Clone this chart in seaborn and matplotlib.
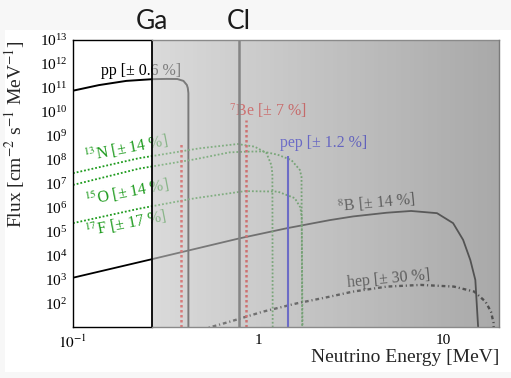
import numpy as np
import pandas as pd
import matplotlib
matplotlib.use("Agg")
import matplotlib.pyplot as plt
import matplotlib.ticker as mticker
import matplotlib.transforms as mtransforms
from matplotlib.patches import Rectangle
from matplotlib.lines import Line2D
import seaborn as sns

# ---------------- data ----------------
pp_energy = [0.100, 0.138, 0.194, 0.268, 0.320, 0.366, 0.395, 0.412, 0.417, 0.420, 0.420]
pp_flux = [7.6e10, 1.30e11, 1.95e11, 2.30e11, 2.36e11, 2.34e11, 1.95e11, 1.32e11, 9.8e10, 6.0e10, 1.0]

n13_energy = [0.100, 0.228, 0.269, 0.482, 0.774, 0.957, 1.108, 1.179, 1.194, 1.199]
n13_flux = [2.7e7, 1.15e8, 1.41e8, 2.95e8, 4.47e8, 3.47e8, 1.9e8, 5.9e7, 2.5e7, 1.0]

o15_energy = [0.100, 0.228, 0.453, 0.700, 0.846, 1.050, 1.275, 1.513, 1.680, 1.715, 1.732]
o15_flux = [8.7e6, 4.2e7, 1.02e8, 2.0e8, 2.14e8, 2.2e8, 1.6e8, 9.5e7, 3.7e7, 1.9e7, 1.0]

f17_energy = [0.100, 0.228, 0.453, 0.846, 1.275, 1.577, 1.690, 1.720, 1.740]
f17_flux = [2.2e5, 8.9e5, 2.4e6, 4.8e6, 4.6e6, 2.45e6, 1.0e6, 4.0e5, 1.0]

b8_energy = [0.100, 0.268, 0.794, 1.43, 2.44, 3.26, 4.95, 6.70, 9.25, 11.3, 12.8, 14.0, 14.9, 15.7]
b8_flux = [1.15e3, 6.9e3, 5.1e4, 1.35e5, 2.95e5, 4.2e5, 6.0e5, 7.1e5, 5.75e5, 2.2e5, 4.4e4, 6.3e3, 9.3e2, 1.0]

hep_energy = [0.50, 0.557, 0.701, 1.06, 1.62, 2.44, 3.25, 4.97, 7.55, 11.4, 14.7, 16.9, 18.1, 18.7, 18.8]
hep_flux = [8.0, 10.0, 16.6, 43.7, 97.7, 186.0, 302.0, 490.0, 575.0, 490.0, 302.0, 115.0, 43.7, 14.5, 1.0]

be7_energy = [0.384, 0.862]
be7_flux = [5.5e8, 4.6e9]

pep_energy = [1.442]
pep_flux = [1.4e8]

ga_threshold = 0.268
cl_threshold = 0.784

x_limits = (0.1, 20.0)
y_limits = (10.0, 1e13)
y_major = [1e2, 1e3, 1e4, 1e5, 1e6, 1e7, 1e8, 1e9, 1e10, 1e11, 1e12, 1e13]
x_major = [0.1, 1.0, 10.0]
x_major_labels = [r"$10^{-1}$", "1", "10"]

# ---------------- style ----------------
sns.set_style("white")
plt.rcParams["font.family"] = ["Liberation Serif", "DejaVu Serif"]
plt.rcParams["mathtext.fontset"] = "stix"

W, H = 511, 378
fig = plt.figure(figsize=(W / 100, H / 100), dpi=100, facecolor="#f7f7f7")
bg = Rectangle((5 / W, 1 - 372 / H), 1, (372 - 30) / H,
               transform=fig.transFigure, facecolor="white",
               edgecolor="none", zorder=-5)
fig.patches.append(bg)
ax = fig.add_axes([73 / W, 1 - 327 / H, (499 - 73) / W, (327 - 40) / H])
ax.set_zorder(1)
ax.set_facecolor("white")

GREEN = "#1e9b1e"


def curve(E, F, **kw):
    df = pd.DataFrame({"E": E, "F": F})
    sns.lineplot(data=df, x="E", y="F", ax=ax, sort=False, estimator=None,
                 legend=False, **kw)


curve(pp_energy, pp_flux, color="black", linewidth=1.4)
curve(b8_energy, b8_flux, color="black", linewidth=1.3)
curve(n13_energy, n13_flux, color=GREEN, linewidth=1.3, linestyle=(0, (1, 1.1)))
curve(o15_energy, o15_flux, color=GREEN, linewidth=1.3, linestyle=(0, (1, 1.1)))
curve(f17_energy, f17_flux, color=GREEN, linewidth=1.3, linestyle=(0, (1, 1.1)))
curve(hep_energy, hep_flux, color="black", linewidth=1.7,
      linestyle=(0, (1.6, 1.2, 0.5, 1.2)))

ax.vlines(be7_energy, y_limits[0], be7_flux, colors="red", linewidth=1.8,
          linestyles=[(0, (1, 1))])
ax.vlines(pep_energy, y_limits[0], pep_flux, colors="blue", linewidth=1.5)

ax.set_xscale("log")
ax.set_yscale("log")
ax.set_xlim(*x_limits)
ax.set_ylim(*y_limits)

# labels on curves
tk = dict(fontsize=11.5, va="baseline", ha="left", rotation_mode="anchor")
ax.text(0.141, 3.5e11, "pp [± 0.6 %]", color="black", **tk)
ax.text(0.692, 6.6e9, r"$^{7}$Be [± 7 %]", color="red", **tk)
ax.text(1.31, 3.5e8, "pep [± 1.2 %]", color="blue", **tk)
ax.text(0.116, 7.9e7, r"$^{13}$N [± 14 %]", color=GREEN, rotation=11, **tk)
ax.text(0.118, 1.15e6, r"$^{15}$O [± 14 %]", color=GREEN, rotation=11, **tk)
ax.text(0.118, 5.8e4, r"$^{17}$F [± 17 %]", color=GREEN, rotation=11, **tk)
ax.text(2.70, 6.5e5, r"$^{8}$B [± 14 %]", color="black", rotation=5.5, **tk)
ax.text(3.04, 4.7e2, "hep [± 30 %]", color="black", rotation=5.5, **tk)

# gray gradient overlay above the Ga threshold
lx0, lx1 = np.log10(x_limits[0]), np.log10(x_limits[1])
fx = (np.log10(ga_threshold) - lx0) / (lx1 - lx0)
n = 256
g = np.linspace(0.78, 0.48, n)
rgba = np.zeros((1, n, 4))
rgba[..., 0] = g
rgba[..., 1] = g
rgba[..., 2] = g
rgba[..., 3] = 0.65
ax.imshow(rgba, extent=[fx, 1.0, 0.0, 1.0], transform=ax.transAxes,
          aspect="auto", interpolation="bilinear", zorder=10)
ax.set_xlim(*x_limits)
ax.set_ylim(*y_limits)

ax.axvline(ga_threshold, color="black", linewidth=1.3, zorder=11)
ax.axvline(cl_threshold, color="#858585", linewidth=1.8, zorder=11)

# frame: black over the white part, gray over the shaded part
for sp in ("top", "right", "bottom"):
    ax.spines[sp].set_visible(False)
frame_kw = dict(transform=ax.transAxes, clip_on=False, zorder=12, linewidth=1.0,
                solid_capstyle="projecting")
ax.add_line(Line2D([0, fx], [1, 1], color="black", **frame_kw))
ax.add_line(Line2D([0, fx], [0, 0], color="black", **frame_kw))
ax.add_line(Line2D([fx, 1], [1, 1], color="#8a8a8a", **frame_kw))
ax.add_line(Line2D([fx, 1], [0, 0], color="#8a8a8a", **frame_kw))
ax.add_line(Line2D([1, 1], [0, 1], color="#7a7a7a", **frame_kw))

trans = mtransforms.blended_transform_factory(ax.transData, fig.transFigure)
for xv, lab in [(ga_threshold, "Ga"), (cl_threshold, "Cl")]:
    ax.text(xv, 1 - 29 / H, lab, transform=trans, ha="center", va="baseline",
            fontsize=19, family=["Lato", "DejaVu Sans"], color="#1a1a1a",
            clip_on=False)

# ticks
ax.yaxis.set_major_locator(mticker.FixedLocator(y_major))
ax.yaxis.set_major_formatter(mticker.LogFormatterMathtext())
ax.yaxis.set_minor_locator(mticker.LogLocator(base=10, subs=np.arange(2, 10), numticks=100))
ax.yaxis.set_minor_formatter(mticker.NullFormatter())
ax.xaxis.set_major_locator(mticker.FixedLocator(x_major))
ax.xaxis.set_major_formatter(mticker.FixedFormatter(x_major_labels))
ax.xaxis.set_minor_locator(mticker.LogLocator(base=10, subs=np.arange(2, 10), numticks=100))
ax.xaxis.set_minor_formatter(mticker.NullFormatter())

ax.tick_params(which="both", direction="in", top=False, right=False, colors="black")
ax.tick_params(axis="y", which="major", length=8, width=0.9, labelsize=11, pad=4)
ax.tick_params(axis="y", which="minor", length=5, width=0.8)
ax.tick_params(axis="x", which="major", length=7, width=0.9, labelsize=11, pad=5)
ax.tick_params(axis="x", which="minor", length=3.5, width=0.8)
ax.spines["left"].set_color("black")
ax.spines["left"].set_linewidth(1.0)

ax.set_xlabel("Neutrino Energy [MeV]", fontsize=14, loc="right")
ax.set_ylabel(r"Flux [cm$^{-2}$ s$^{-1}$ MeV$^{-1}$]", fontsize=14, loc="top")
ax.xaxis.set_label_coords(1.0, -0.075)
ax.yaxis.set_label_coords(-0.108, 1.0)

fig.savefig("out.png", dpi=100, facecolor=fig.get_facecolor())
